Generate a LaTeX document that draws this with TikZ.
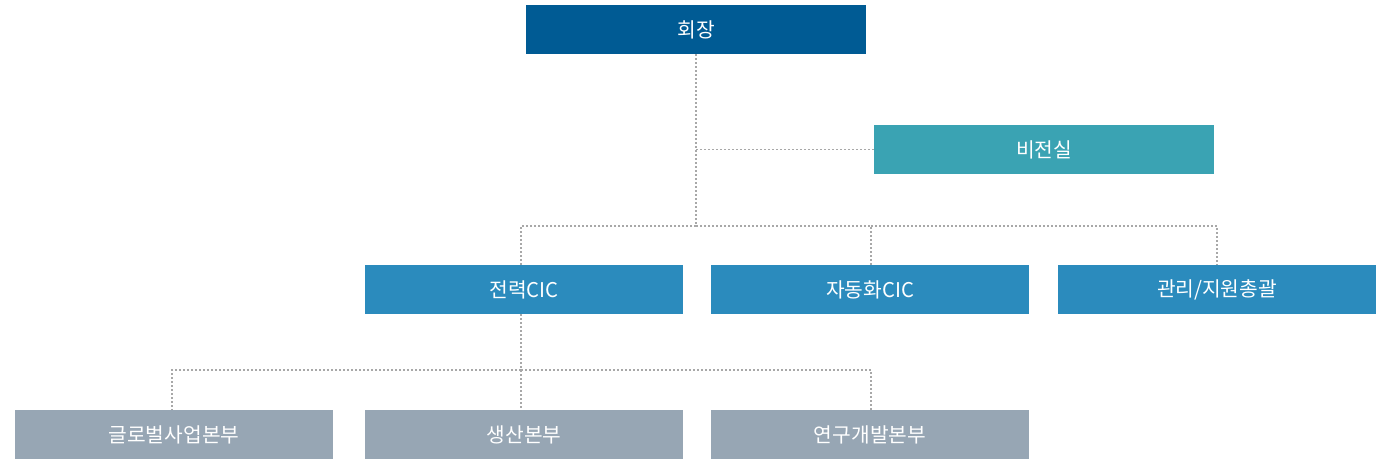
\documentclass[tikz,border=0pt]{standalone}
\usepackage{fontspec}
\setmainfont{Noto Sans CJK KR}
\definecolor{topblue}{HTML}{005B94}
\definecolor{teal}{HTML}{3AA3B3}
\definecolor{midblue}{HTML}{2B8BBD}
\definecolor{greyblue}{HTML}{97A6B4}
\definecolor{linegrey}{HTML}{A8A8A8}
\begin{document}
\begin{tikzpicture}[x=1pt,y=-1pt,
  box/.style={minimum width=318pt,minimum height=49pt,inner sep=0pt,text=white,font=\fontsize{20.3}{23}\selectfont,anchor=center},
  conn/.style={draw=linegrey,line width=1.1pt,dash pattern=on 2pt off 2pt}]
\useasboundingbox (0,0) rectangle (1391,464);
\node[box,fill=topblue,minimum width=340pt] (ceo) at (696,29.5) {회장};
\node[box,fill=teal,minimum width=340pt] (vision) at (1044,149.5) {비전실};
\node[box,fill=midblue] (power) at (524,289.5) {전력CIC};
\node[box,fill=midblue] (auto) at (870,289.5) {자동화CIC};
\node[box,fill=midblue] (mgmt) at (1217,289.5) {관리/지원총괄};
\node[box,fill=greyblue] (global) at (174,434.5) {글로벌사업본부};
\node[box,fill=greyblue] (prod) at (524,434.5) {생산본부};
\node[box,fill=greyblue] (rnd) at (870,434.5) {연구개발본부};
\coordinate (j1) at (696,226);
\coordinate (j2) at (521,370);
\draw[conn] (ceo.south) -- (j1);
\draw[conn] (ceo.south |- vision.west) -- (vision.west);
\draw[conn] (j1) -- (521,226) -- (521,265);
\draw[conn] (j1) -- (871,226) -- (871,265);
\draw[conn] (871,226) -- (mgmt.north |- j1) -- (mgmt.north);
\draw[conn] (521,314) -- (j2) -- (521,410);
\draw[conn] (j2) -- (172,370) -- (172,410);
\draw[conn] (j2) -- (871,370) -- (871,410);
\end{tikzpicture}
\end{document}
